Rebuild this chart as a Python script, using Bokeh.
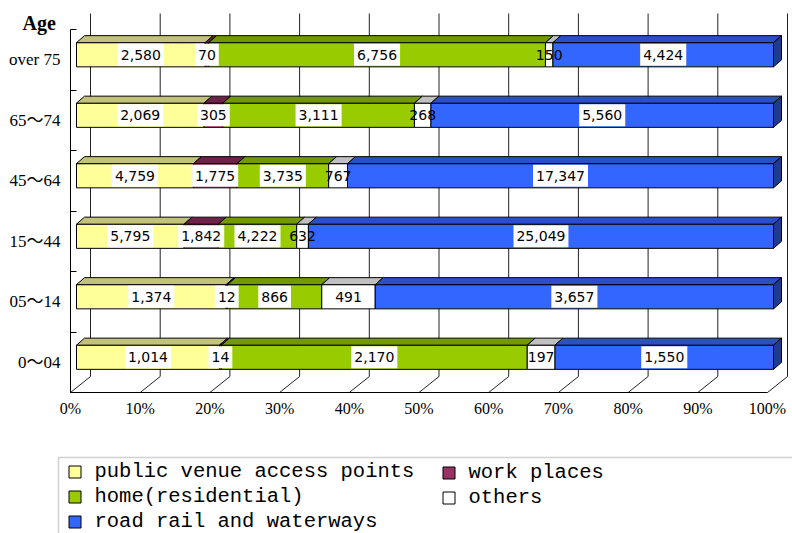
import numpy as np
from bokeh.plotting import figure
from bokeh.models import (Range1d, FixedTicker, LinearAxis, Label, Legend,
                          LegendItem, BoxAnnotation)
from bokeh.core.properties import value
from bokeh.embed import file_html
from bokeh.resources import INLINE

# ---------------- data ----------------
ages = ["0～04", "05～14", "15～44", "45～64", "65～74", "over 75"]
series = ["public venue access points", "work places", "home(residential)",
          "others", "road rail and waterways"]
public_venue = [1014, 1374, 5795, 4759, 2069, 2580]
work_places = [14, 12, 1842, 1775, 305, 70]
home_residential = [2170, 866, 4222, 3735, 3111, 6756]
others = [197, 491, 632, 767, 268, 150]
road_rail_waterways = [1550, 3657, 25049, 17347, 5560, 4424]
pct_ticks = [0, 10, 20, 30, 40, 50, 60, 70, 80, 90, 100]
pct_labels = ["0%", "10%", "20%", "30%", "40%", "50%", "60%", "70%", "80%", "90%", "100%"]

# ---------------- styles ----------------
front_colors = ["#FFFF99", "#993366", "#99CC00", "#FFFFFF", "#3366FF"]
top_colors = ["#C2C27A", "#6E2149", "#739900", "#C0C0C0", "#2A50C8"]
side_color = "#1F3A8F"

W, H = 792, 533
SX = 6.97     # px per percent
SY = 60.5     # px per category
X0 = 70.0     # px of 0 % on the front floor edge
Y0 = 361.75   # px of first category centre on the front plane

p = figure(width=W, height=H, output_backend="svg", toolbar_location=None,
           x_range=Range1d(-X0 / SX, (W - X0) / SX),
           y_range=Range1d((Y0 - H) / SY, Y0 / SY),
           min_border=0, min_border_left=0, min_border_right=0,
           min_border_top=0, min_border_bottom=0)
p.outline_line_color = None
p.xgrid.visible = False
p.ygrid.visible = False
p.background_fill_color = "white"

# depth offsets (px -> data)
fdx, fdy = 6 / SX, 5 / SY     # bar front face
tdx, tdy = 8 / SX, 7 / SY     # bar depth
bdx, bdy = 20 / SX, 16 / SY   # back wall
half = 0.2
n = len(ages)
idx = np.arange(n, dtype=float)

# ---------------- walls / floor ----------------
gx = np.array(pct_ticks, dtype=float)
p.segment(x0=gx, y0=-0.5, x1=gx + bdx, y1=-0.5 + bdy, line_color="#222222", line_width=1)
p.segment(x0=gx + bdx, y0=-0.5 + bdy, x1=gx + bdx, y1=5.5 + bdy, line_color="#222222", line_width=1)

# ---------------- bars ----------------
vals = np.array([public_venue, work_places, home_residential, others, road_rail_waterways], dtype=float)
pct = vals / vals.sum(axis=0) * 100.0
ends = np.cumsum(pct, axis=0)
starts = ends - pct

front_renderers = []
for s in range(len(series)):
    left = starts[s] + fdx
    right = ends[s] + fdx
    bottom = idx - half + fdy
    top = idx + half + fdy
    r = p.quad(left=left, right=right, bottom=bottom, top=top,
               fill_color=front_colors[s], line_color="black", line_width=1)
    front_renderers.append(r)
    xs = [[l, rr, rr + tdx, l + tdx] for l, rr in zip(left, right)]
    ys = [[t, t, t + tdy, t + tdy] for t in top]
    p.patches(xs, ys, fill_color=top_colors[s], line_color="black", line_width=1)
    if s == len(series) - 1:
        xs = [[rr, rr + tdx, rr + tdx, rr] for rr in right]
        ys = [[b, b + tdy, t + tdy, t] for b, t in zip(bottom, top)]
        p.patches(xs, ys, fill_color=side_color, line_color="black", line_width=1)

# ---------------- data labels ----------------
def text_w(t, size=14):
    return sum((0.318 if c == "," else 0.636) * size for c in t)

for s in range(len(series)):
    txt = [f"{int(v):,}" for v in vals[s]]
    cx = (starts[s] + ends[s]) / 2 + fdx
    cy = idx + fdy
    if s != 3:
        p.rect(x=cx, y=cy, width=[text_w(t) + 6 for t in txt], height=22,
               width_units="screen", height_units="screen",
               fill_color="white", line_color=None)
    p.text(x=cx, y=cy, text=txt, text_align="center", text_baseline="middle",
           text_font=value("DejaVu Sans"), text_font_size="14px", text_color="black")

# ---------------- axes ----------------
serif = "'Liberation Serif', 'Noto Sans CJK JP'"
xa = p.xaxis[0]
xa.fixed_location = -0.5
xa.bounds = (0, 100)
xa.ticker = FixedTicker(ticks=pct_ticks)
xa.major_label_overrides = {t: l for t, l in zip(pct_ticks, pct_labels)}
xa.major_tick_in = 0
xa.major_tick_out = 0
xa.minor_tick_line_color = None
xa.axis_line_color = "black"
xa.major_label_text_font = serif
xa.major_label_text_font_size = "16px"
xa.major_label_text_color = "black"
xa.major_label_standoff = 7

ya = p.yaxis[0]
ya.fixed_location = 0
ya.bounds = (-0.5, 5.5)
ya.ticker = FixedTicker(ticks=[-0.5, 0.5, 1.5, 2.5, 3.5, 4.5, 5.5])
ya.major_tick_in = 6
ya.major_tick_out = 0
ya.minor_tick_line_color = None
ya.major_label_text_color = None
ya.axis_line_color = "black"
ya.major_tick_line_color = "black"

cat_axis = LinearAxis(ticker=FixedTicker(ticks=list(range(n))),
                      major_label_overrides={i: a for i, a in enumerate(ages)},
                      fixed_location=0, axis_line_color=None,
                      major_tick_line_color=None, minor_tick_line_color=None,
                      major_label_standoff=4, major_label_text_font=serif,
                      major_label_text_font_size="17px", major_label_text_color="black")
p.add_layout(cat_axis, "left")

p.add_layout(Label(x=22, y=H - 22, x_units="screen", y_units="screen", text="Age",
                   text_font="Liberation Serif", text_font_style="bold",
                   text_font_size="20px", text_baseline="middle", text_color="black"))

# ---------------- legend ----------------
p.add_layout(BoxAnnotation(left=58, right=W + 10, top=H - 457, bottom=-10,
                           left_units="screen", right_units="screen",
                           top_units="screen", bottom_units="screen",
                           fill_alpha=0, fill_color=None, line_color="#666666", line_width=1.5))

def make_legend(order, vx, vy):
    leg = Legend(items=[LegendItem(label=series[k], renderers=[front_renderers[k]]) for k in order],
                 location=(vx, vy), orientation="vertical",
                 border_line_color=None, background_fill_alpha=0,
                 padding=5, margin=0, spacing=2,
                 glyph_width=15, glyph_height=15, label_height=22, label_standoff=13,
                 label_text_font="Liberation Mono", label_text_font_size="20.5px",
                 label_text_color="black")
    p.add_layout(leg)

make_legend([0, 2, 4], 66.5, 0)
make_legend([1, 3], 440.5, 24)

open("out.html", "w").write(file_html(p, INLINE))
